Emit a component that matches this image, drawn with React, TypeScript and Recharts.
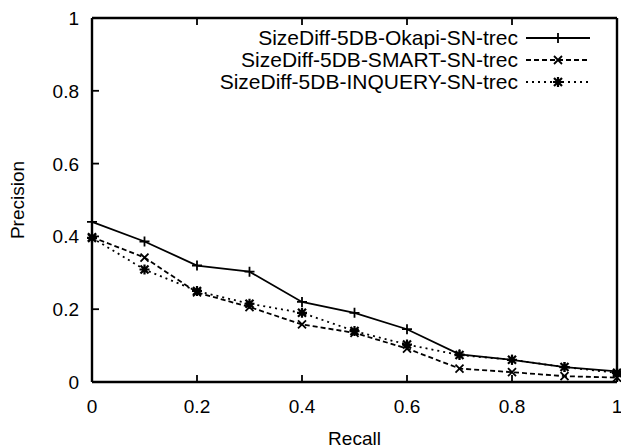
import React from 'react';
import { LineChart, Line, XAxis, YAxis } from 'recharts';

const recall = [0, 0.1, 0.2, 0.3, 0.4, 0.5, 0.6, 0.7, 0.8, 0.9, 1];
const okapi = [0.44, 0.386, 0.32, 0.303, 0.22, 0.19, 0.145, 0.076, 0.061, 0.041, 0.029];
const smart = [0.398, 0.342, 0.246, 0.206, 0.158, 0.135, 0.092, 0.037, 0.027, 0.016, 0.012];
const inquery = [0.396, 0.309, 0.25, 0.215, 0.19, 0.14, 0.103, 0.074, 0.061, 0.041, 0.025];
const xTicks = [0, 0.2, 0.4, 0.6, 0.8, 1];
const yTicks = [0, 0.2, 0.4, 0.6, 0.8, 1];
const seriesNames = [
  'SizeDiff-5DB-Okapi-SN-trec',
  'SizeDiff-5DB-SMART-SN-trec',
  'SizeDiff-5DB-INQUERY-SN-trec',
];

const data = recall.map((r, i) => ({ recall: r, okapi: okapi[i], smart: smart[i], inquery: inquery[i] }));

const FONT = '"Liberation Sans", Arial, Helvetica, sans-serif';
const FS = 19;
const LFS = 21;
const SW = 1.8;

const plusPath = (cx: number, cy: number, s = 5) => `M${cx - s},${cy}h${2 * s}M${cx},${cy - s}v${2 * s}`;
const crossPath = (cx: number, cy: number, s = 4) =>
  `M${cx - s},${cy - s}L${cx + s},${cy + s}M${cx - s},${cy + s}L${cx + s},${cy - s}`;

const PlusDot = (p: any) => {
  const { cx, cy, index } = p;
  if (cx == null || cy == null) return <g key={`p${index}`} />;
  return <path key={`p${index}`} d={plusPath(cx, cy)} stroke="#000" strokeWidth={SW} fill="none" />;
};
const CrossDot = (p: any) => {
  const { cx, cy, index } = p;
  if (cx == null || cy == null) return <g key={`x${index}`} />;
  return <path key={`x${index}`} d={crossPath(cx, cy)} stroke="#000" strokeWidth={SW} fill="none" />;
};
const StarDot = (p: any) => {
  const { cx, cy, index } = p;
  if (cx == null || cy == null) return <g key={`s${index}`} />;
  return (
    <path
      key={`s${index}`}
      d={plusPath(cx, cy, 5) + crossPath(cx, cy, 4)}
      stroke="#000"
      strokeWidth={2.2}
      fill="none"
    />
  );
};

const fmt = (v: number) => String(v);

const BottomTick = (p: any) => {
  const { x, y, payload } = p;
  return (
    <g>
      <line x1={x} x2={x} y1={y} y2={y - 7} stroke="#000" strokeWidth={SW} />
      <text x={x} y={y + 31} textAnchor="middle" fontSize={FS} fontFamily={FONT} fill="#000">
        {fmt(payload.value)}
      </text>
    </g>
  );
};
const TopTick = (p: any) => {
  const { x, y } = p;
  return <line x1={x} x2={x} y1={y} y2={y + 7} stroke="#000" strokeWidth={SW} />;
};
const LeftTick = (p: any) => {
  const { x, y, payload } = p;
  return (
    <g>
      <line x1={x} x2={x + 7} y1={y} y2={y} stroke="#000" strokeWidth={SW} />
      <text x={x - 13} y={y + 7} textAnchor="end" fontSize={FS} fontFamily={FONT} fill="#000">
        {fmt(payload.value)}
      </text>
    </g>
  );
};
const RightTick = (p: any) => {
  const { x, y } = p;
  return <line x1={x} x2={x - 7} y1={y} y2={y} stroke="#000" strokeWidth={SW} />;
};

const legendStyles = [
  { dash: undefined as string | undefined, marker: 'plus' },
  { dash: '5 3', marker: 'cross' },
  { dash: '2 4', marker: 'star' },
];

const LegendOverlay = () => (
  <svg width={621} height={100} style={{ position: 'absolute', left: 0, top: 0, pointerEvents: 'none' }}>
    {seriesNames.map((name, i) => {
      const cy = 38 + i * 22;
      const st = legendStyles[i];
      const mx = 558;
      let md = '';
      if (st.marker === 'plus') md = plusPath(mx, cy);
      else if (st.marker === 'cross') md = crossPath(mx, cy);
      else md = plusPath(mx, cy, 5) + crossPath(mx, cy, 4);
      return (
        <g key={name}>
          <text x={518} y={cy + 7} textAnchor="end" fontSize={LFS} fontFamily={FONT} fill="#000">
            {name}
          </text>
          <line x1={526} x2={590} y1={cy} y2={cy} stroke="#000" strokeWidth={SW} strokeDasharray={st.dash} />
          <path d={md} stroke="#000" strokeWidth={st.marker === 'star' ? 2.2 : SW} fill="none" />
        </g>
      );
    })}
  </svg>
);

export default function App() {
  return (
    <div style={{ position: 'absolute', left: 0, top: 0, width: 621, height: 448, background: '#fff' }}>
      <LineChart width={621} height={448} data={data} margin={{ top: 17, right: 0, bottom: 0, left: 0 }}>
        <XAxis
          xAxisId="bottom"
          dataKey="recall"
          type="number"
          domain={[0, 1]}
          ticks={xTicks}
          orientation="bottom"
          height={66}
          tickSize={0}
          tickMargin={0}
          tickLine={false}
          axisLine={{ stroke: '#000', strokeWidth: 2.4 }}
          tick={<BottomTick />}
          interval={0}
          label={{ value: 'Recall', position: 'insideBottom', offset: 3, fontSize: FS, fontFamily: FONT, fill: '#000' }}
        />
        <XAxis
          xAxisId="top"
          dataKey="recall"
          type="number"
          domain={[0, 1]}
          ticks={xTicks}
          orientation="top"
          height={1}
          tickSize={0}
          tickMargin={0}
          tickLine={false}
          axisLine={{ stroke: '#000', strokeWidth: 2.4 }}
          tick={<TopTick />}
          interval={0}
        />
        <YAxis
          yAxisId="left"
          type="number"
          domain={[0, 1]}
          ticks={yTicks}
          orientation="left"
          width={92}
          tickSize={0}
          tickMargin={0}
          tickLine={false}
          axisLine={{ stroke: '#000', strokeWidth: 2.4 }}
          tick={<LeftTick />}
          interval={0}
          label={{ value: 'Precision', angle: -90, position: 'insideLeft', offset: 17, fontSize: FS, fontFamily: FONT, fill: '#000', style: { textAnchor: 'middle' } }}
        />
        <YAxis
          yAxisId="right"
          type="number"
          domain={[0, 1]}
          ticks={yTicks}
          orientation="right"
          width={4}
          tickSize={0}
          tickMargin={0}
          tickLine={false}
          axisLine={{ stroke: '#000', strokeWidth: 2.4 }}
          tick={<RightTick />}
          interval={0}
        />
        <Line
          xAxisId="bottom"
          yAxisId="left"
          dataKey="okapi"
          name={seriesNames[0]}
          stroke="#000"
          strokeWidth={SW}
          dot={PlusDot}
          isAnimationActive={false}
        />
        <Line
          xAxisId="bottom"
          yAxisId="left"
          dataKey="smart"
          name={seriesNames[1]}
          stroke="#000"
          strokeWidth={SW}
          strokeDasharray="5 3"
          dot={CrossDot}
          isAnimationActive={false}
        />
        <Line
          xAxisId="bottom"
          yAxisId="left"
          dataKey="inquery"
          name={seriesNames[2]}
          stroke="#000"
          strokeWidth={SW}
          strokeDasharray="2 4"
          dot={StarDot}
          isAnimationActive={false}
        />
      </LineChart>
      <LegendOverlay />
    </div>
  );
}
